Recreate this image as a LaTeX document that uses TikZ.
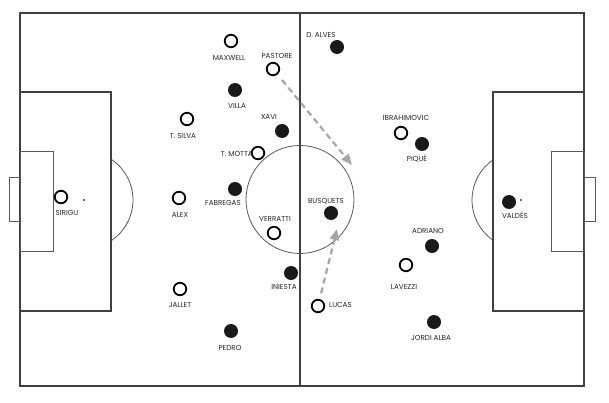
\documentclass[tikz,border=0pt]{standalone}
\usepackage{fontspec}
\setmainfont{Poppins}
\usetikzlibrary{arrows.meta}
\begin{document}
\begin{tikzpicture}[x=1pt,y=-1pt,
  field/.style={draw=black!75,line width=1.1pt},
  thinl/.style={draw=black!65,line width=0.8pt},
  openp/.style={circle,draw=black,line width=1.8pt,fill=white,minimum size=12.5pt,inner sep=0pt},
  fillp/.style={circle,fill=black!90,minimum size=14pt,inner sep=0pt},
  lbl/.style={font=\fontsize{7.2}{8}\selectfont,text=black!85,inner sep=0pt},
  run/.style={draw=black!35,line width=2.2pt,dash pattern=on 6pt off 4pt,-{Triangle[length=11pt,width=9pt,fill=black!35]}}]
\useasboundingbox (0,0) rectangle (609,403);
% field
\draw[field] (20,13) rectangle (584,386);
\draw[field] (300,13) -- (300,386);
\draw[thinl] (300,199.5) circle (54);
% left side
\draw[field] (20,92) rectangle (111,311);
\draw[thinl] (20,151) rectangle (53,251);
\draw[thinl] (20,177) -- (9,177) -- (9,221) -- (20,221);
\draw[thinl] (84,200) ++(-56.6:49) arc (-56.6:56.6:49);
\fill[black!80] (84,200) circle (1.2);
% right side
\draw[field] (493,92) rectangle (584,311);
\draw[thinl] (551,151) rectangle (584,251);
\draw[thinl] (584,177) -- (595,177) -- (595,221) -- (584,221);
\draw[thinl] (521,200) ++(124.8:49) arc (124.8:235.2:49);
\fill[black!80] (521,200) circle (1.2);
% players (open)
\node[openp] (maxwell) at (231,41) {};
\node[lbl] (maxwellt) at (229,58) {MAXWELL};
\node[openp] (pastore) at (273,69) {};
\node[lbl] (pastoret) at (277,56) {PASTORE};
\node[openp] (motta) at (258,153) {};
\node[lbl,anchor=east] (mottat) at (253,154) {T. MOTTA};
\node[openp] (silva) at (187,119) {};
\node[lbl] (silvat) at (183,136) {T. SILVA};
\node[openp] (alex) at (179,198) {};
\node[lbl] (alext) at (180,215) {ALEX};
\node[openp] (sirigu) at (61,197) {};
\node[lbl] (sirigut) at (67,213) {SIRIGU};
\node[openp] (verratti) at (274,233) {};
\node[lbl] (verrattit) at (275,219) {VERRATTI};
\node[openp] (lucas) at (318,306) {};
\node[lbl,anchor=west] (lucast) at (329,305) {LUCAS};
\node[openp] (jallet) at (180,289) {};
\node[lbl] (jallett) at (180,305) {JALLET};
\node[openp] (ibra) at (401,133) {};
\node[lbl] (ibrat) at (406,118) {IBRAHIMOVIC};
\node[openp] (lavezzi) at (406,265) {};
\node[lbl] (lavezzit) at (404,287) {LAVEZZI};
% players (filled)
\node[fillp] (alves) at (337,47) {};
\node[lbl] (alvest) at (321,35) {D. ALVES};
\node[fillp] (villa) at (235,90) {};
\node[lbl] (villat) at (237,106) {VILLA};
\node[fillp] (xavi) at (282,131) {};
\node[lbl] (xavit) at (269,117) {XAVI};
\node[fillp] (fabregas) at (235,189) {};
\node[lbl] (fabregast) at (223,203) {FABREGAS};
\node[fillp] (busquets) at (331,213) {};
\node[lbl] (busquetst) at (326,201) {BUSQUETS};
\node[fillp] (iniesta) at (291,273) {};
\node[lbl] (iniestat) at (284,287) {INIESTA};
\node[fillp] (pedro) at (231,331) {};
\node[lbl] (pedrot) at (230,348) {PEDRO};
\node[fillp] (pique) at (422,144) {};
\node[lbl] (piquet) at (417,159) {PIQUÉ};
\node[fillp] (valdes) at (509,202) {};
\node[lbl] (valdest) at (515,215) {VALDÉS};
\node[fillp] (adriano) at (432,246) {};
\node[lbl] (adrianot) at (428,231) {ADRIANO};
\node[fillp] (alba) at (434,322) {};
\node[lbl] (albat) at (431,338) {JORDI ALBA};
% runs
\coordinate (runA) at (352,165);
\coordinate (runB) at (337,229);
\draw[run,shorten <=7pt] (pastore) -- (runA);
\draw[run,shorten <=6pt] (lucas) -- (runB);
\end{tikzpicture}
\end{document}
